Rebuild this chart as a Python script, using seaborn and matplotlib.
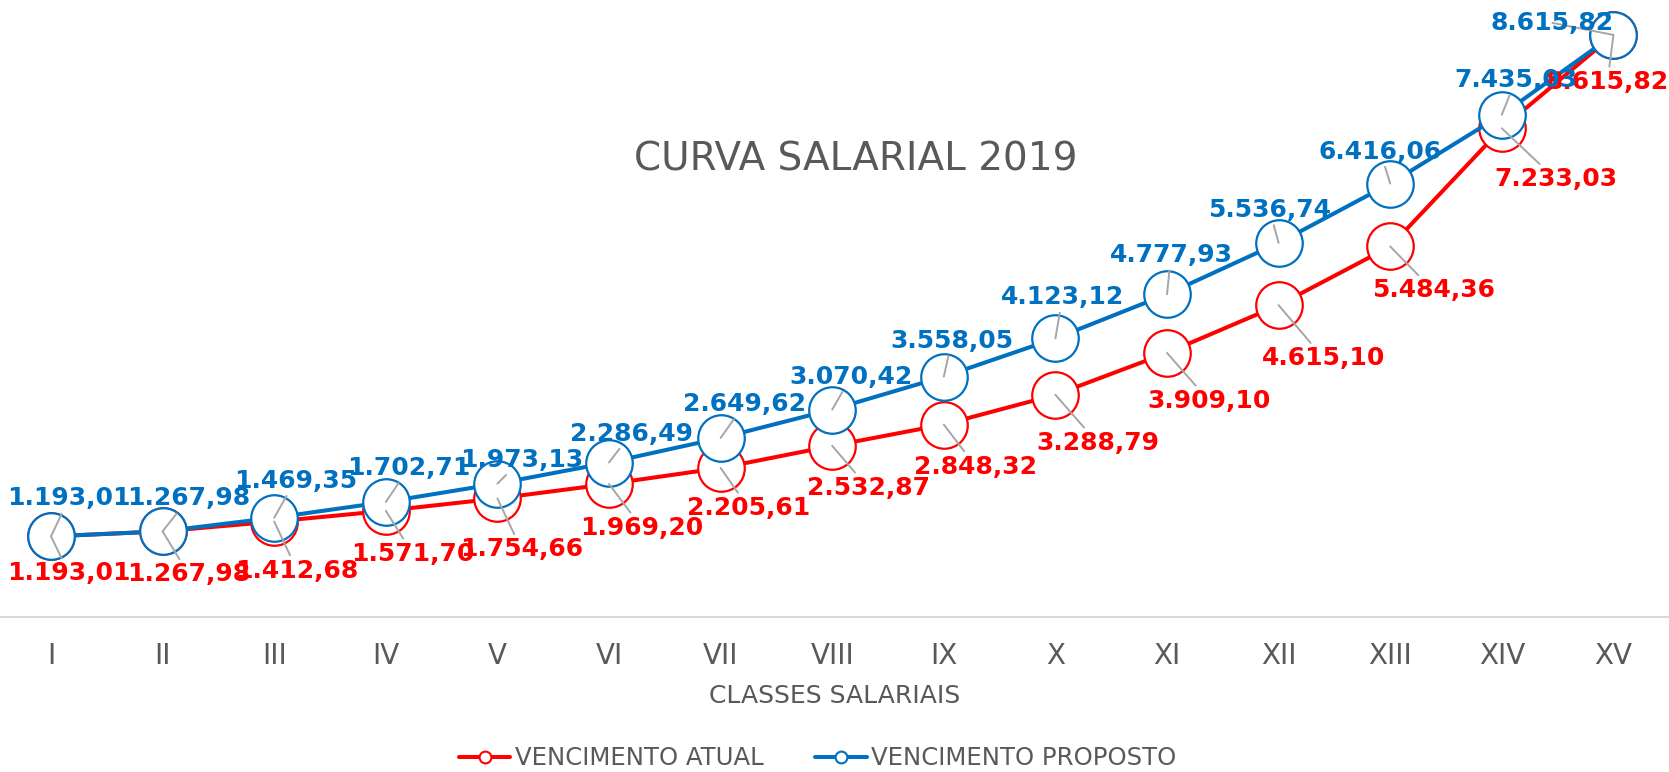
import numpy as np
import pandas as pd
import matplotlib
matplotlib.use("Agg")
import matplotlib.pyplot as plt
import seaborn as sns
from matplotlib.lines import Line2D


# =========================
# Data
# =========================

classes = ["I", "II", "III", "IV", "V", "VI", "VII", "VIII",
           "IX", "X", "XI", "XII", "XIII", "XIV", "XV"]

atual = [1193.01, 1267.98, 1412.68, 1571.70, 1754.66, 1969.20, 2205.61, 2532.87,
         2848.32, 3288.79, 3909.10, 4615.10, 5484.36, 7233.03, 8615.82]

proposto = [1193.01, 1267.98, 1469.35, 1702.71, 1973.13, 2286.49, 2649.62, 3070.42,
            3558.05, 4123.12, 4777.93, 5536.74, 6416.06, 7435.03, 8615.82]

# label offsets (pixels, x right / y down) from each point
off_atual = [(18, 37), (26, 43), (23, 49), (27, 43), (24, 51), (33, 44), (28, 40), (36, 42),
             (32, 42), (42, 48), (42, 48), (45, 53), (43, 44), (54, 51), (-6, 47)]
off_proposto = [(18, -38), (26, -33), (21, -37), (23, -34), (24, -24), (22, -29), (24, -34),
                (19, -33), (8, -36), (7, -41), (4, -39), (-9, -33), (-10, -32), (14, -35),
                (-61, -12)]

RED = "#FF0000"
BLUE = "#0070C0"
GRAY_TXT = "#595959"


def fmt_br(v):
    s = f"{v:,.2f}"
    return s.replace(",", "X").replace(".", ",").replace("X", ".")


# =========================
# Plot
# =========================

sns.set_theme(style="white")
plt.rcParams["font.family"] = ["DejaVu Sans"]

fig = plt.figure(figsize=(16.69, 7.72), dpi=100)
ax = fig.add_axes([0.0, 0.2008, 1.0, 0.7876])

x = np.arange(len(classes))
df = pd.DataFrame({"x": x, "atual": atual, "proposto": proposto})

line_kw = dict(marker="o", markersize=33.5, markerfacecolor="white",
               markeredgewidth=1.6, linewidth=2.9, clip_on=False)

sns.lineplot(data=df, x="x", y="atual", color=RED, markeredgecolor=RED,
             ax=ax, zorder=3, **line_kw)
sns.lineplot(data=df, x="x", y="proposto", color=BLUE, markeredgecolor=BLUE,
             ax=ax, zorder=4, **line_kw)

# data labels with leader lines
for series, offs, col, z in [(atual, off_atual, RED, 6), (proposto, off_proposto, BLUE, 7)]:
    for i, v in enumerate(series):
        dx, dy = offs[i]
        ax.annotate(fmt_br(v), xy=(i, v), xytext=(dx, -dy), textcoords="offset pixels",
                    ha="center", va="center", fontsize=18, fontweight="bold", color=col,
                    zorder=z, annotation_clip=False,
                    arrowprops=dict(arrowstyle="-", color="#A6A6A6", lw=1.4,
                                    shrinkA=0, shrinkB=0))

ax.set_xlim(-0.457, 14.498)
ax.set_ylim(0, 9000)
ax.set_xticks(x)
ax.set_xticklabels(classes, fontsize=20, color=GRAY_TXT)
ax.tick_params(axis="x", length=0, pad=18)
ax.set_yticks([])
ax.set_ylabel("")
ax.set_xlabel("CLASSES SALARIAIS", fontsize=18, color=GRAY_TXT, labelpad=10)

for side in ["top", "left", "right"]:
    ax.spines[side].set_visible(False)
ax.spines["bottom"].set_color("#D9D9D9")
ax.spines["bottom"].set_linewidth(1.5)

fig.text(0.513, 0.793, "CURVA SALARIAL 2019", fontsize=28, color=GRAY_TXT,
         ha="center", va="center")

handles = [
    Line2D([], [], color=RED, lw=2.9, marker="o", markersize=8.5,
           markerfacecolor="white", markeredgecolor=RED, markeredgewidth=1.5),
    Line2D([], [], color=BLUE, lw=2.9, marker="o", markersize=8.5,
           markerfacecolor="white", markeredgecolor=BLUE, markeredgewidth=1.5),
]
leg = fig.legend(handles, ["VENCIMENTO ATUAL", "VENCIMENTO PROPOSTO"],
                 loc="center", bbox_to_anchor=(0.49, 0.018), ncol=2, frameon=False,
                 fontsize=17.6, handlelength=2.1, handletextpad=0.2, columnspacing=2.1)
for t in leg.get_texts():
    t.set_color(GRAY_TXT)

fig.savefig("out.png", dpi=100, facecolor="white")
